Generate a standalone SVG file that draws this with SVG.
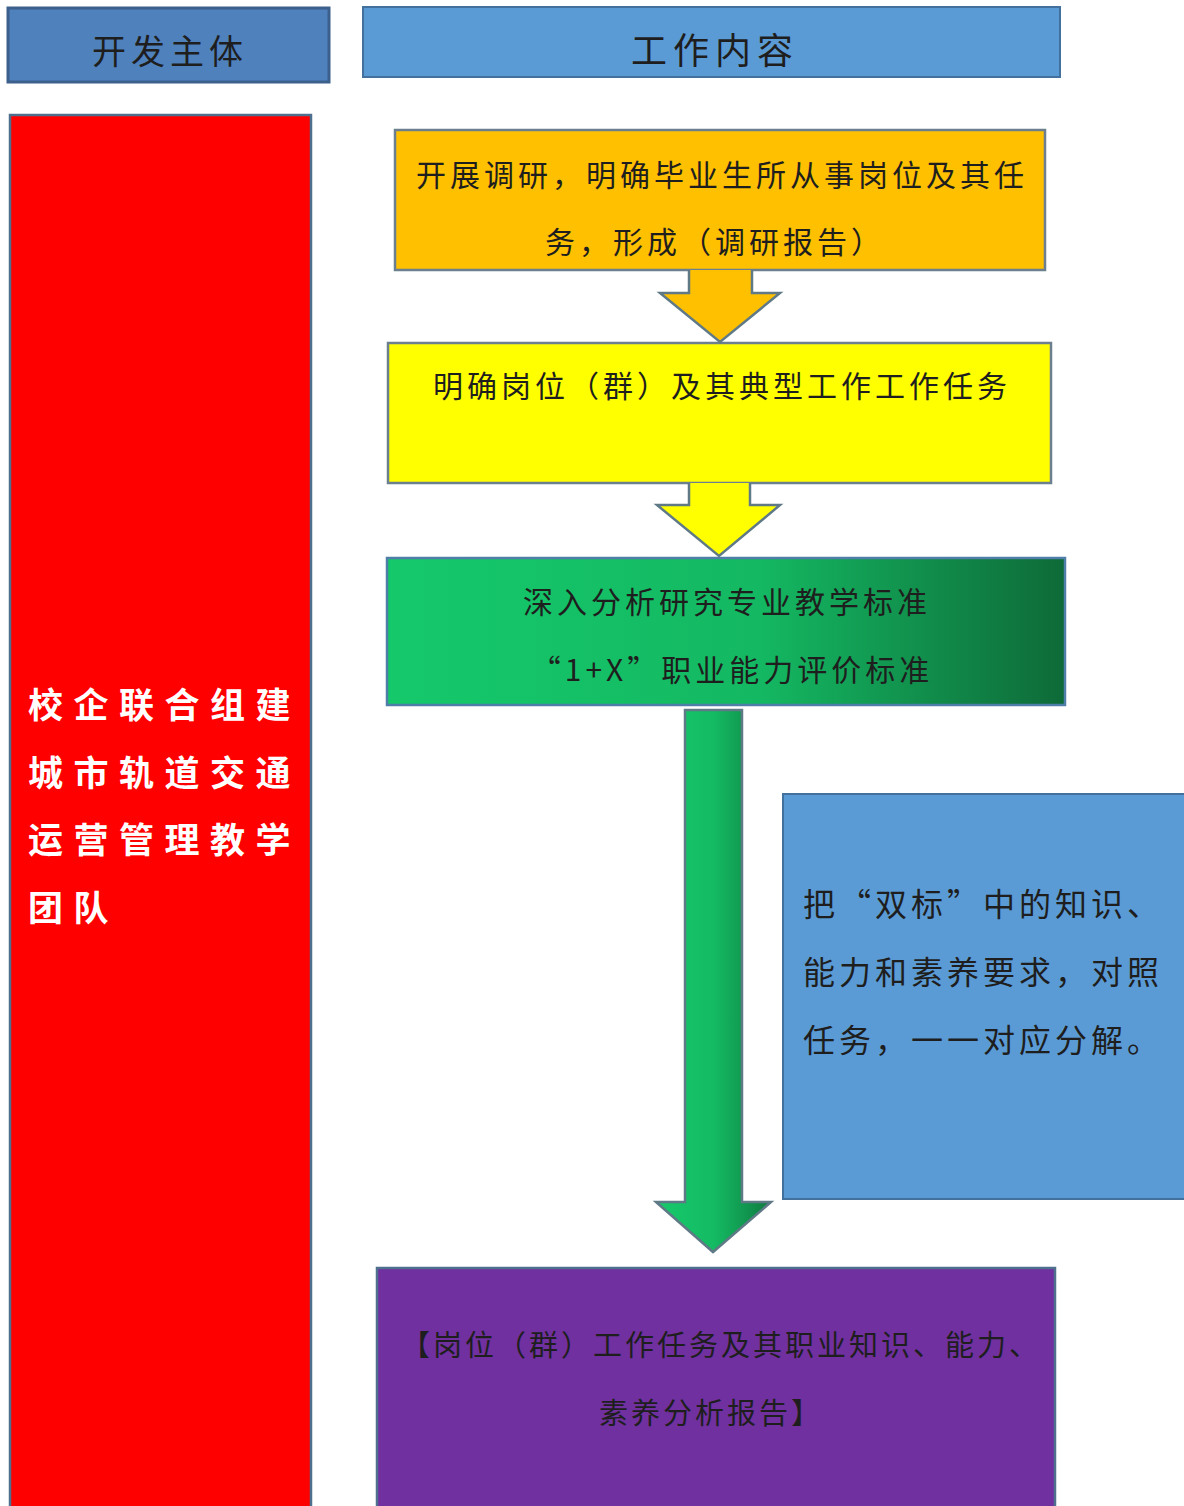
<svg xmlns="http://www.w3.org/2000/svg" width="1184" height="1506" viewBox="0 0 1184 1506">
<defs>
<linearGradient id="gBox" x1="0" y1="0" x2="1" y2="0">
<stop offset="0" stop-color="#15c96b"/>
<stop offset="0.55" stop-color="#14b862"/>
<stop offset="1" stop-color="#0e6a38"/>
</linearGradient>
<linearGradient id="gArrow" x1="0" y1="0" x2="1" y2="0">
<stop offset="0" stop-color="#16c96b"/>
<stop offset="0.5" stop-color="#14bb63"/>
<stop offset="1" stop-color="#0e7a40"/>
</linearGradient>
<style>
.box{stroke:#6b7f8f;stroke-width:2.5}
.t{font-family:"Noto Sans CJK SC","Liberation Sans",sans-serif;fill:#1e1e1e}
.arrow{stroke:#5f7a86;stroke-width:2.5;stroke-linejoin:miter}
</style>
</defs>
<rect width="1184" height="1506" fill="#ffffff"/>

<g id="header-subject">
<rect x="8" y="8" width="321" height="74" fill="#4f81bd" stroke="#3d5f8c" stroke-width="3"/>
<text class="t" x="170" y="64" font-size="34" letter-spacing="5" text-anchor="middle" fill="#1b2433">开发主体</text>
</g>

<g id="header-content">
<rect x="363" y="7" width="697" height="70" fill="#5b9bd5" stroke="#41719c" stroke-width="2"/>
<text class="t" x="715" y="64" font-size="36" letter-spacing="6" text-anchor="middle" fill="#1b2433">工作内容</text>
</g>

<g id="team">
<rect x="10" y="115" width="301" height="1400" fill="#ff0000" stroke="#4f6f8f" stroke-width="2.5"/>
<g class="t" font-size="35" letter-spacing="10.5" font-weight="bold" style="fill:#ffffff">
<text x="28" y="718">校企联合组建</text>
<text x="28" y="786">城市轨道交通</text>
<text x="28" y="853">运营管理教学</text>
<text x="28" y="921">团队</text>
</g>
</g>

<g id="step1">
<rect class="box" x="395" y="130" width="650" height="140" fill="#ffc000"/>
<text class="t" x="722" y="186" font-size="30" letter-spacing="4" text-anchor="middle">开展调研，明确毕业生所从事岗位及其任</text>
<text class="t" x="715" y="253" font-size="30" letter-spacing="4" text-anchor="middle">务，形成（调研报告）</text>
</g>

<g id="step2">
<rect class="box" x="388" y="343" width="663" height="140" fill="#ffff00"/>
<text class="t" x="722" y="397" font-size="30" letter-spacing="4" text-anchor="middle">明确岗位（群）及其典型工作工作任务</text>
</g>

<g id="step3">
<rect x="387" y="558" width="678" height="147" fill="url(#gBox)" stroke="#4f7fa8" stroke-width="2.5"/>
<text class="t" x="727" y="613" font-size="30" letter-spacing="4" text-anchor="middle">深入分析研究专业教学标准</text>
<text class="t" x="732" y="681" font-size="30" letter-spacing="4" text-anchor="middle">“1+X”职业能力评价标准</text>
</g>

<g id="note">
<rect x="783" y="794" width="410" height="405" fill="#5b9bd5" stroke="#41719c" stroke-width="2"/>
<g class="t" font-size="32" letter-spacing="4">
<text x="803" y="916">把“双标”中的知识、</text>
<text x="803" y="984">能力和素养要求，对照</text>
<text x="803" y="1052">任务，一一对应分解。</text>
</g>
</g>

<g id="result">
<rect x="377" y="1268" width="678" height="250" fill="#7030a0" stroke="#4f6f8f" stroke-width="2.5"/>
<text class="t" x="721" y="1356" font-size="29" letter-spacing="3" text-anchor="middle" fill="#1a0a22">【岗位（群）工作任务及其职业知识、能力、</text>
<text class="t" x="711" y="1424" font-size="29" letter-spacing="3" text-anchor="middle" fill="#1a0a22">素养分析报告】</text>
</g>

<g id="connectors">
<path class="arrow" d="M689,270 L689,293 L660,293 L720,342 L780,293 L752,293 L752,270" fill="#ffc000"/>
<path class="arrow" d="M689,483 L689,505 L657,505 L719,556 L780,505 L750,505 L750,483" fill="#ffff00"/>
<path class="arrow" d="M685,710 L742,710 L742,1202 L771,1202 L713,1252 L656,1202 L685,1202 Z" fill="url(#gArrow)" stroke="#4f7f9f" stroke-width="2"/>
</g>
</svg>
